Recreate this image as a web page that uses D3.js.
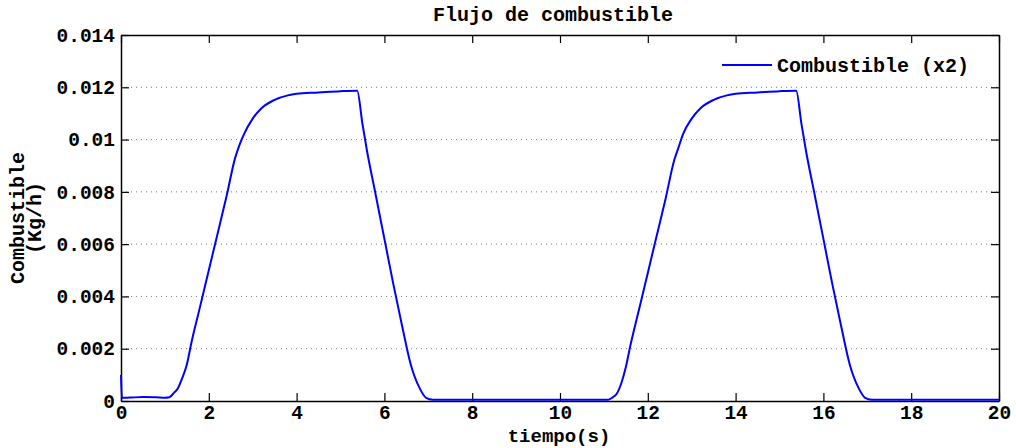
<!DOCTYPE html>
<html>
<head>
<meta charset="utf-8">
<script src="https://cdn.jsdelivr.net/npm/d3@7"></script>
<style>
  body { margin: 0; background: #fff; }
  text { font-family: "Liberation Mono", "DejaVu Sans Mono", monospace; font-weight: bold; fill: #000; }
</style>
</head>
<body>
<div id="chart"></div>
<script>
// data
const tiempo = [0, 0.02, 0.2, 0.5, 0.8, 1.0, 1.1, 1.2, 1.3, 1.4, 1.5, 1.6, 1.8, 2.0, 2.2, 2.4, 2.6, 2.7, 2.8, 3.0, 3.2, 3.5, 3.8, 4.0, 4.5, 5.0, 5.38,
  5.5, 5.6, 5.8, 6.0, 6.2, 6.4, 6.6, 6.8, 6.95, 7.1, 8, 9, 10, 11.1,
  11.2, 11.3, 11.4, 11.5, 11.6, 11.8, 12.0, 12.2, 12.4, 12.6, 12.7, 12.8, 13.0, 13.2, 13.5, 13.8, 14.0, 14.5, 15.0, 15.38,
  15.5, 15.6, 15.8, 16.0, 16.2, 16.4, 16.6, 16.8, 16.95, 17.1, 18, 19, 20];
const combustible = [0.001, 0.00012, 0.00013, 0.00015, 0.00014, 0.00012, 0.00014, 0.0003, 0.0005, 0.0009, 0.0014, 0.0022, 0.0036, 0.0050, 0.0064, 0.0078, 0.0093, 0.0098, 0.0102, 0.0108, 0.0112, 0.01152, 0.01169, 0.01175, 0.0118, 0.01185, 0.01187,
  0.0106, 0.0096, 0.0079, 0.0062, 0.0045, 0.0029, 0.0014, 0.0005, 0.00012, 0.00005, 0.00005, 0.00005, 0.00005, 0.00005,
  0.00014, 0.0003, 0.0007, 0.0013, 0.0021, 0.0035, 0.0049, 0.0063, 0.0077, 0.0092, 0.0097, 0.0102, 0.0108, 0.0112, 0.01152, 0.01169, 0.01175, 0.0118, 0.01185, 0.01187,
  0.0106, 0.0096, 0.0079, 0.0062, 0.0045, 0.0029, 0.0014, 0.0005, 0.00012, 0.00005, 0.00005, 0.00005, 0.00005];
const xTicks = [0, 2, 4, 6, 8, 10, 12, 14, 16, 18, 20];
const yTicks = [0, 0.002, 0.004, 0.006, 0.008, 0.01, 0.012, 0.014];
const yTickLabels = ["0", "0.002", "0.004", "0.006", "0.008", "0.01", "0.012", "0.014"];
const serieName = "Combustible (x2)";

(() => {
  const width = 1016, height = 448;
  const margin = {top: 35, right: 17, bottom: 47, left: 121};
  const iw = width - margin.left - margin.right;
  const ih = height - margin.top - margin.bottom;

  const svg = d3.select("#chart").append("svg")
    .attr("width", width)
    .attr("height", height);
  const g = svg.append("g").attr("transform", `translate(${margin.left},${margin.top})`);

  const x = d3.scaleLinear().domain([0, 20]).range([0, iw]);
  const y = d3.scaleLinear().domain([0, 0.014]).range([ih, 0]);

  // dotted horizontal grid
  g.append("g")
    .selectAll("line")
    .data(yTicks.filter(d => d > 0 && d < 0.014))
    .enter().append("line")
    .attr("x1", 0).attr("x2", iw)
    .attr("y1", d => y(d)).attr("y2", d => y(d))
    .attr("stroke", "#777")
    .attr("stroke-width", 1)
    .attr("stroke-dasharray", "1,4");

  const fmtY = d => yTickLabels[yTicks.indexOf(d)];

  const styleAxis = sel => {
    sel.select(".domain").attr("stroke", "#000").attr("stroke-width", 1.5);
    sel.selectAll(".tick line").attr("stroke", "#000").attr("stroke-width", 1.2);
    sel.selectAll("text").attr("font-size", 19.5).attr("fill", "#000")
      .style("font-family", '"Liberation Mono", monospace').style("font-weight", "bold");
  };

  g.append("g")
    .attr("transform", `translate(0,${ih})`)
    .call(d3.axisBottom(x).tickValues(xTicks).tickSize(-8).tickSizeOuter(0).tickPadding(4))
    .call(styleAxis);
  g.append("g")
    .call(d3.axisTop(x).tickValues(xTicks).tickSize(-8).tickSizeOuter(0).tickFormat(""))
    .call(styleAxis);
  g.append("g")
    .call(d3.axisLeft(y).tickValues(yTicks).tickFormat(fmtY).tickSize(-8).tickSizeOuter(0).tickPadding(6))
    .call(styleAxis);
  g.append("g")
    .attr("transform", `translate(${iw},0)`)
    .call(d3.axisRight(y).tickValues(yTicks).tickSize(-8).tickSizeOuter(0).tickFormat(""))
    .call(styleAxis);

  // the series
  const pts = tiempo.map((t, i) => [t, combustible[i]]);
  const line = d3.line()
    .x(d => x(d[0]))
    .y(d => y(d[1]))
    .curve(d3.curveMonotoneX);
  g.append("path")
    .datum(pts)
    .attr("fill", "none")
    .attr("stroke", "#0000ff")
    .attr("stroke-width", 2)
    .attr("d", line);

  // legend
  const lg = g.append("g").attr("transform", "translate(601,30)");
  lg.append("line")
    .attr("x1", 0).attr("x2", 50)
    .attr("y1", 0).attr("y2", 0)
    .attr("stroke", "#0000ff").attr("stroke-width", 2);
  lg.append("text")
    .attr("x", 55).attr("y", 7)
    .attr("font-size", 20)
    .text(serieName);

  // title and labels
  svg.append("text")
    .attr("x", 553).attr("y", 21)
    .attr("text-anchor", "middle")
    .attr("font-size", 20)
    .text("Flujo de combustible");
  svg.append("text")
    .attr("x", 559).attr("y", 442)
    .attr("text-anchor", "middle")
    .attr("font-size", 19)
    .text("tiempo(s)");
  const yl = svg.append("text")
    .attr("transform", `translate(24,${margin.top + ih / 2}) rotate(-90)`)
    .attr("text-anchor", "middle")
    .attr("font-size", 20);
  yl.append("tspan").attr("x", 0).attr("dy", 0).text("Combustible");
  yl.append("tspan").attr("x", 0).attr("dy", 17).text("(Kg/h)");
})();
</script>
</body>
</html>
